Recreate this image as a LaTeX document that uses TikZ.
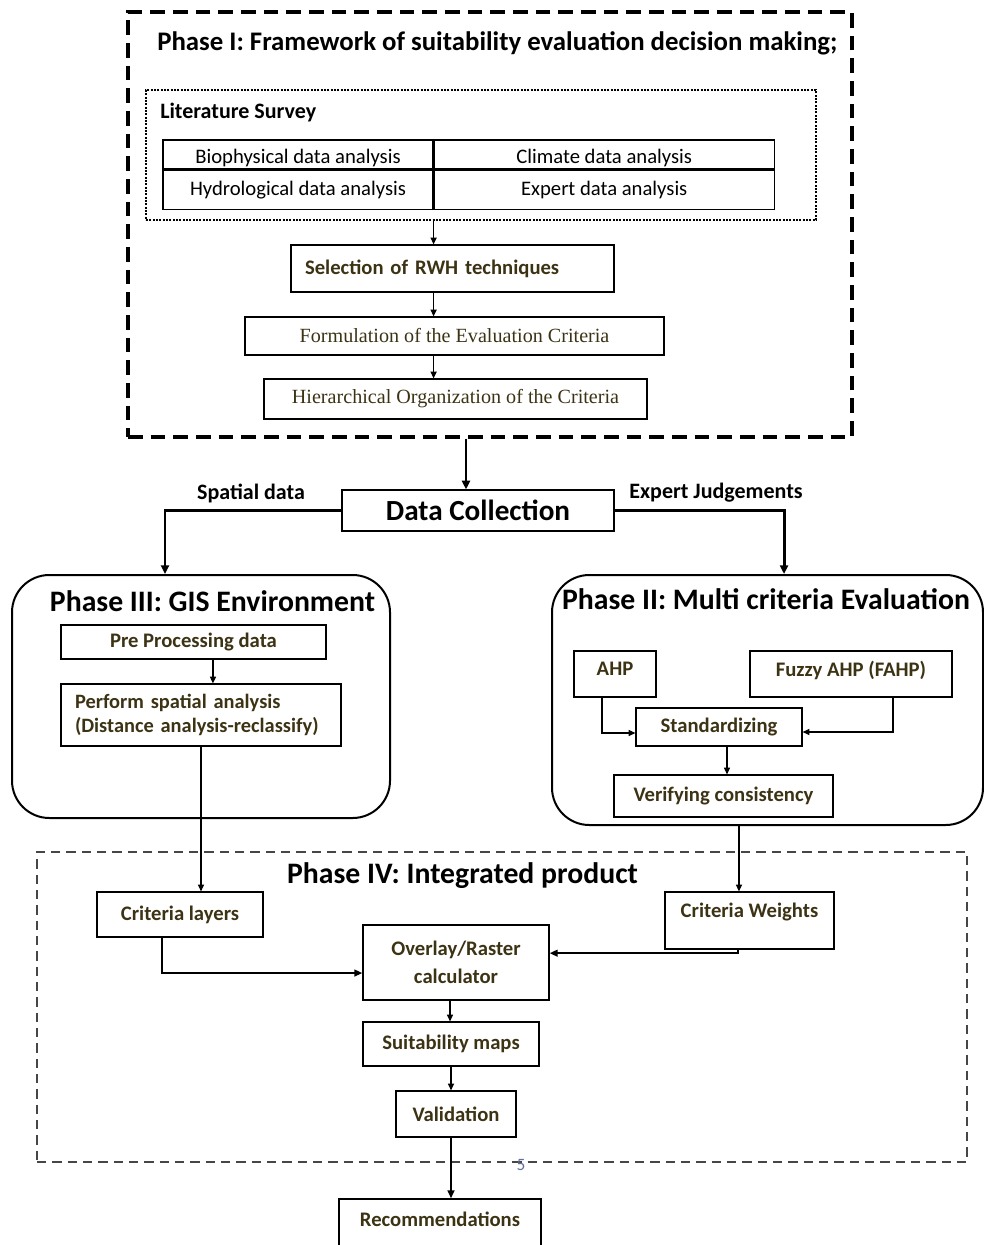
\documentclass[tikz,border=0pt]{standalone}
\usepackage{fontspec}
\setmainfont{Carlito}
\newfontfamily\timesfont{Liberation Serif}
\usetikzlibrary{arrows.meta,positioning}
\definecolor{inktxt}{RGB}{60,50,20}
\definecolor{dashgrey}{RGB}{70,70,70}
\definecolor{pagenum}{RGB}{100,110,150}

\begin{document}
\begin{tikzpicture}[x=0.75pt, y=-0.75pt,
            box/.style={draw, line width=0.9pt, inner sep=0pt, text=inktxt,
                font=\bfseries\fontsize{15.5}{18}\selectfont, align=center},
            cell/.style={draw, line width=0.9pt, inner sep=0pt,
                font=\fontsize{15.5}{18}\selectfont},
            serifbox/.style={box, font=\timesfont\fontsize{15.1}{18}\selectfont},
            phase/.style={draw, line width=1.5pt, rounded corners=28pt, inner sep=0pt},
            title/.style={font=\bfseries\fontsize{22.3}{26}\selectfont, inner sep=0pt},
            lbl/.style={font=\bfseries\fontsize{16.5}{19}\selectfont, inner sep=0pt},
            arr/.style={line width=0.9pt, -{Triangle[length=5pt,width=4.5pt]}},
            midarr/.style={line width=1.6pt, -{Triangle[length=6pt,width=5pt]}},
            bigarr/.style={line width=2.2pt, -{Triangle[length=6.5pt,width=6pt]}}]

            \useasboundingbox (0,0) rectangle (984,1245);

            % Phase I
            \node[draw, line width=2.4pt, dash pattern=on 11pt off 6pt,
                minimum width=543pt, minimum height=318.75pt, inner sep=0pt] (ph1) at (490,224.5) {};
            \node[title, anchor=west, font=\bfseries\fontsize{20.1}{24}\selectfont] (ph1t) at (157,43)
                {Phase I: Framework of suitability evaluation decision making;};

            \node[draw, line width=1.6pt, dash pattern=on 1.4pt off 1.1pt,
                minimum width=502.5pt, minimum height=97.5pt, inner sep=0pt] (lit) at (481,155) {};
            \node[lbl, anchor=west] (litt) at (160,113) {Literature Survey};

            \node[cell, minimum width=202.5pt, minimum height=21.75pt, text height=16pt] (bio) at (298,154.5)
                {Biophysical data analysis};
            \node[cell, minimum width=255pt, minimum height=21.75pt, text height=16pt, right=0pt of bio] (clim)
                {Climate data analysis};
            \node[cell, minimum width=202.5pt, minimum height=29.25pt, below=0pt of bio] (hyd)
                {Hydrological data analysis};
            \node[cell, minimum width=255pt, minimum height=29.25pt, below=0pt of clim] (expd)
                {Expert data analysis};

            \node[box, text width=221.25pt, inner xsep=10.5pt, minimum height=35.25pt, align=left] (sel)
                at (452.5,268.5) {Selection of RWH techniques};
            \node[serifbox, minimum width=314.25pt, minimum height=28.5pt] (form) at (454.5,336)
                {Formulation of the Evaluation Criteria};
            \node[serifbox, minimum width=287.25pt, minimum height=30pt] (hier) at (455.5,399)
                {Hierarchical Organization of the Criteria};

            \draw[arr] (lit.south -| bio.east) -- (sel.north -| bio.east);
            \draw[arr] (sel.south -| bio.east) -- (form.north -| bio.east);
            \draw[arr] (form.south -| bio.east) -- (hier.north -| bio.east);

            % Data collection
            \node[box, text=black, font=\bfseries\fontsize{21.9}{26}\selectfont,
                minimum width=204pt, minimum height=30.75pt] (dc) at (478,510.5) {Data Collection};
            \coordinate (dcin) at ([xshift=-9pt]dc.north);
            \draw[bigarr] (ph1.south -| dcin) -- (dcin);

            % Phase III and Phase II
            \node[phase, minimum width=283.5pt, minimum height=182.25pt] (ph3) at (201,696.5) {};
            \node[title] (ph3t) at (212.5,601) {Phase III: GIS Environment};
            \node[phase, minimum width=323.25pt, minimum height=187.5pt] (ph2) at (767.5,700) {};
            \node[title] (ph2t) at (766,599) {Phase II: Multi criteria Evaluation};

            \coordinate (ph3in) at ([xshift=-27pt]ph3.north);
            \coordinate (ph2in) at ([xshift=12.4pt]ph2.north);
            \draw[bigarr] (dc.west) -| (ph3in);
            \draw[bigarr] (dc.east) -| (ph2in);
            \node[lbl] (spat) at (251,493) {Spatial data};
            \node[lbl] (expj) at (716,493) {Expert Judgements};

            \node[box, minimum width=198.75pt, minimum height=25.5pt] (pre) at (193.5,642) {Pre Processing data};
            \node[box, text width=189pt, inner xsep=10.5pt, minimum height=46.5pt, align=left,
                font=\bfseries\fontsize{15.3}{18}\selectfont] (perf) at (201,715)
                {Perform spatial analysis\\(Distance analysis-reclassify)};
            \draw[arr] ([xshift=14.6pt]pre.south) -- ([xshift=14.6pt]pre.south |- perf.north);

            \node[box, minimum width=61.5pt, minimum height=34.5pt, text depth=8pt] (ahp) at (615,674) {AHP};
            \node[box, minimum width=151.5pt, minimum height=34.5pt, text depth=8pt] (fahp) at (851,674)
                {Fuzzy AHP (FAHP)};
            \node[box, minimum width=124.5pt, minimum height=28.5pt] (std) at (719,727) {Standardizing};
            \node[box, minimum width=164.25pt, minimum height=31.5pt] (ver) at (723.5,796) {Verifying consistency};
            \draw[arr] ([xshift=-9.75pt]ahp.south) |- ([yshift=-4.5pt]std.west);
            \draw[arr] ([xshift=31.5pt]fahp.south) |- ([yshift=-3.75pt]std.east);
            \draw[arr] ([xshift=6pt]std.south) -- ([xshift=6pt]std.south |- ver.north);

            % Phase IV
            \node[draw=dashgrey, line width=1.6pt, dash pattern=on 7pt off 4.5pt,
                minimum width=697.5pt, minimum height=232.5pt, inner sep=0pt] (ph4) at (502,1007) {};
            \node[title] (ph4t) at (462.5,876) {Phase IV: Integrated product};

            \node[box, minimum width=124.5pt, minimum height=33.75pt] (cl) at (180,914.5) {Criteria layers};
            \node[box, minimum width=126.75pt, minimum height=42.75pt, text depth=14.8pt] (cw) at (749.5,920.5)
                {Criteria Weights};
            \node[box, minimum width=139.5pt, minimum height=56.25pt,
                font=\bfseries\fontsize{15.5}{21}\selectfont] (ovl) at (456,962.5) {Overlay/Raster\\calculator};
            \node[box, minimum width=132pt, minimum height=33pt] (suit) at (451,1044) {Suitability maps};
            \node[box, minimum width=90pt, minimum height=34.5pt] (val) at (456,1114) {Validation};
            \node[box, minimum width=151.5pt, minimum height=36pt, text depth=6pt] (rec) at (440,1223)
                {Recommendations};
            \node[text=pagenum, font=\fontsize{13}{15}\selectfont, inner sep=0pt] (pg) at (521,1165) {5};

            \draw[arr] (perf.south) -- (perf.south |- cl.north);
            \draw[arr] ([xshift=-21.4pt]ph2.south) -- ([xshift=-21.4pt]ph2.south |- cw.north);
            \draw[midarr] ([xshift=-13.5pt]cl.south) |- ([yshift=-7.9pt]ovl.west);
            \draw[midarr] ([xshift=-8.6pt]cw.south) |- ([yshift=7pt]ovl.east);
            \draw[arr] ([xshift=-4.5pt]ovl.south) -- ([xshift=-4.5pt]ovl.south |- suit.north);
            \draw[arr] (suit.south) -- (suit.south |- val.north);
            \draw[midarr] (val.south -| suit.south) -- (suit.south |- rec.north);
\end{tikzpicture}
\end{document}
